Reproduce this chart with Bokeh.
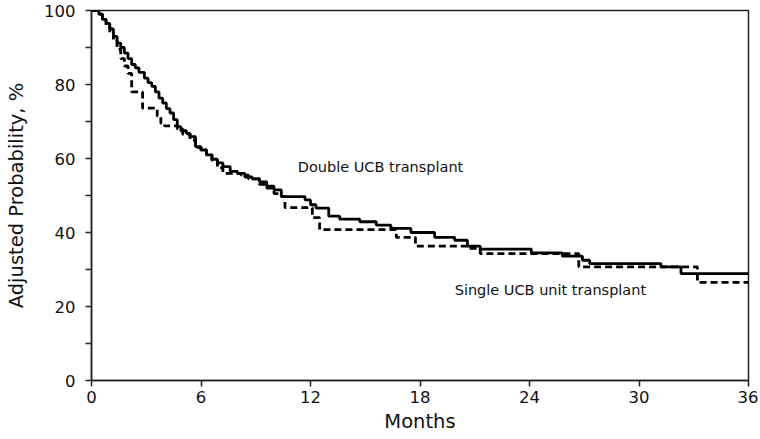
from bokeh.plotting import figure
from bokeh.models import Label, FixedTicker
from bokeh.embed import file_html
from bokeh.resources import INLINE

# Double UCB transplant (solid) - step times (months) and adjusted probability (%)
double_t = [0, 0.4, 0.6, 0.8, 1.0, 1.2, 1.4, 1.6, 1.8, 2.0, 2.2, 2.4, 2.6, 2.9, 3.1, 3.3,
            3.5, 3.7, 3.9, 4.1, 4.3, 4.5, 4.7, 4.9, 5.2, 5.4, 5.7, 6.0, 6.3, 6.6, 6.9, 7.2,
            7.6, 8.0, 8.4, 8.8, 9.2, 9.6, 10.0, 10.4, 11.7, 12.0, 12.3, 13.0, 13.6, 14.7,
            15.6, 16.4, 17.5, 18.8, 19.9, 20.6, 21.3, 24.1, 25.8, 26.9, 27.3, 31.2, 32.3, 36]
double_p = [100, 99, 97.6, 96.5, 95, 93, 91.2, 90, 88.5, 87, 85.4, 84.5, 83.3, 81.7, 80.5, 79.5,
            78, 76.3, 75, 73.5, 72.3, 70.5, 68.6, 67.5, 66.8, 65.9, 63.2, 62.3, 61, 59.8, 58.8, 57.8,
            56.5, 56, 55, 54.5, 53.7, 52.5, 51.5, 49.7, 48.8, 47.5, 46.6, 44.4, 43.6, 42.9,
            42.0, 41.1, 40.0, 38.7, 37.9, 36.3, 35.5, 34.5, 33.6, 32.5, 31.6, 30.7, 28.9, 28.9]

# Single UCB unit transplant (dashed)
single_t = [0, 0.4, 0.6, 0.8, 1.0, 1.2, 1.4, 1.6, 1.8, 2.0, 2.2, 2.8, 3.6, 3.8, 4.0, 4.7,
            5.0, 5.4, 5.7, 6.0, 6.3, 6.6, 6.9, 7.2, 8.2, 8.6, 9.2, 9.6, 10.0, 10.4, 10.6,
            12.1, 12.5, 16.7, 17.75, 20.6, 21.3, 26.7, 33.2, 36]
single_p = [100, 99, 97.6, 96, 94, 92, 89.5, 87, 85, 83, 78, 73.6, 71.5, 69.5, 68.8, 68,
            66.5, 65, 63, 62.3, 61, 59.5, 57.5, 56, 55.5, 54.5, 53, 52, 50.5, 49.7, 46.7,
            44, 40.8, 38.7, 36.3, 35.7, 34.3, 30.7, 26.5, 26.5]

x_ticks = [0, 6, 12, 18, 24, 30, 36]
y_ticks = [0, 20, 40, 60, 80, 100]
y_minor = [10, 30, 50, 70, 90]

FONT = "DejaVu Sans"

p = figure(width=758, height=437, x_range=(0, 36), y_range=(0, 100),
           output_backend="svg", toolbar_location=None,
           min_border_left=91, min_border_right=10, min_border_top=10, min_border_bottom=57)

p.step(double_t, double_p, mode="after", line_color="black", line_width=2.8)
p.step(single_t, single_p, mode="after", line_color="black", line_width=2.8, line_dash="7 4")

p.add_layout(Label(x=11.3, y=57.7, text="Double UCB transplant", text_font=FONT,
                   text_font_size="14.5px", text_baseline="middle", text_color="#111"))
p.add_layout(Label(x=19.9, y=24.4, text="Single UCB unit transplant", text_font=FONT,
                   text_font_size="14.5px", text_baseline="middle", text_color="#111"))

p.xgrid.visible = False
p.ygrid.visible = False
p.outline_line_color = "#222"
p.outline_line_width = 1.5

p.xaxis.ticker = FixedTicker(ticks=x_ticks)
p.yaxis.ticker = FixedTicker(ticks=y_ticks, minor_ticks=y_minor)

for ax in (p.xaxis, p.yaxis):
    ax.axis_line_color = "#222"
    ax.axis_line_width = 1.5
    ax.major_tick_line_color = "#222"
    ax.major_tick_line_width = 1.5
    ax.major_tick_out = 6
    ax.major_tick_in = 0
    ax.major_label_text_font = FONT
    ax.major_label_text_font_size = "16.5px"
    ax.major_label_text_color = "#111"
    ax.axis_label_text_font = FONT
    ax.axis_label_text_font_size = "19.5px"
    ax.axis_label_text_font_style = "normal"
    ax.axis_label_text_color = "#111"

p.yaxis.minor_tick_line_color = "#222"
p.yaxis.minor_tick_line_width = 1.5
p.yaxis.minor_tick_out = 6
p.yaxis.minor_tick_in = 0
p.xaxis.minor_tick_line_color = None

p.xaxis.axis_label = "Months"
p.yaxis.axis_label = "Adjusted Probability, %"
p.xaxis.major_label_standoff = 4
p.xaxis.axis_label_standoff = 4
p.yaxis.major_label_standoff = 10
p.yaxis.axis_label_standoff = 13

open("out.html", "w").write(file_html(p, INLINE))
